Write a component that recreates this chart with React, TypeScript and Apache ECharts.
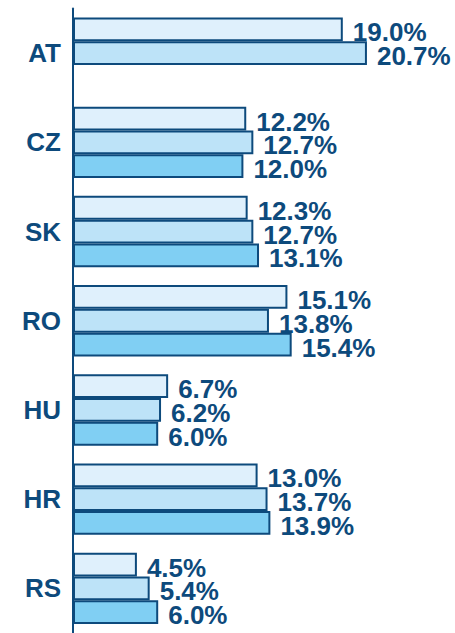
import React, { useEffect, useRef } from "react";
import * as echarts from "echarts";

const categories = ["AT", "CZ", "SK", "RO", "HU", "HR", "RS"];
const series1 = [19.0, 12.2, 12.3, 15.1, 6.7, 13.0, 4.5];
const series2 = [20.7, 12.7, 12.7, 13.8, 6.2, 13.7, 5.4];
const series3: (number | null)[] = [null, 12.0, 13.1, 15.4, 6.0, 13.9, 6.0];

const DARK = "#0d4a7c";
const COLORS = ["#dff0fc", "#bde3f8", "#80cff3"];
const FONT = "Arial, 'Liberation Sans', sans-serif";

export default function App() {
  const ref = useRef<HTMLDivElement>(null);
  useEffect(() => {
    if (!ref.current) return;
    const chart = echarts.init(ref.current, undefined, { renderer: "svg" });
    const mk = (data: (number | null)[], color: string) => ({
      type: "bar" as const,
      data,
      barGap: "0%",
      barCategoryGap: "20%",
      itemStyle: { color, borderColor: DARK, borderWidth: 2 },
      label: {
        show: true,
        position: "right" as const,
        distance: 10,
        formatter: (p: any) => (p.value == null ? "" : Number(p.value).toFixed(1) + "%"),
        color: DARK,
        fontSize: 26,
        lineHeight: 22,
        fontWeight: "bold" as const,
        fontFamily: FONT,
        offset: [0, 3],
      },
    });
    chart.setOption({
      animation: false,
      grid: { left: 73, top: 8.5, width: 355, height: 630, containLabel: false },
      xAxis: {
        type: "value",
        min: 0,
        max: 25,
        show: false,
        splitLine: { show: false },
      },
      yAxis: {
        type: "category",
        data: categories,
        inverse: true,
        axisLine: { show: true, lineStyle: { color: DARK, width: 2 } },
        axisTick: { show: false },
        axisLabel: {
          color: DARK,
          fontSize: 26,
          fontWeight: "bold",
          fontFamily: FONT,
          margin: 12,
        },
      },
      series: [mk(series1, COLORS[0]), mk(series2, COLORS[1]), mk(series3, COLORS[2])],
    });
    return () => chart.dispose();
  }, []);
  return (
    <div
      ref={ref}
      style={{ position: "fixed", left: 0, top: 0, width: 455, height: 633, background: "#fff" }}
    />
  );
}
